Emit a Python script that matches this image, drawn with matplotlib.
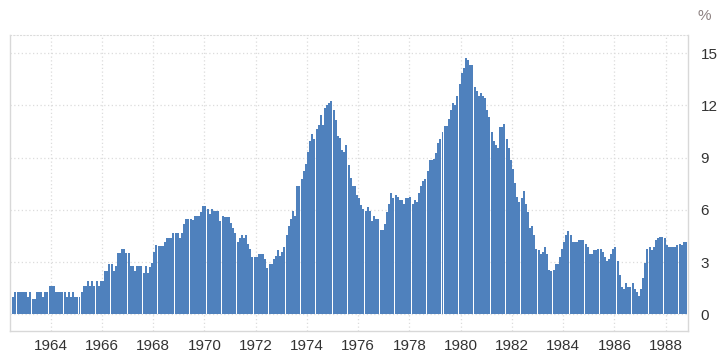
import numpy as np
import pandas as pd
import matplotlib
matplotlib.use("Agg")
import matplotlib.pyplot as plt

# monthly inflation rate (%), Jul 1962 - Oct 1988
start_month = "1962-07"
inflation_rate = [
    1.0, 1.3, 1.3, 1.3, 1.3, 1.3,                                        # 1962 (Jul-Dec)
    1.3, 1.0, 1.3, 0.9, 0.9, 1.3, 1.3, 1.3, 1.0, 1.3, 1.3, 1.6,          # 1963
    1.6, 1.6, 1.3, 1.3, 1.3, 1.3, 1.3, 1.0, 1.3, 1.0, 1.3, 1.0,          # 1964
    1.0, 1.0, 1.3, 1.6, 1.6, 1.9, 1.6, 1.9, 1.6, 1.9, 1.6, 1.9,          # 1965
    1.9, 2.5, 2.5, 2.9, 2.9, 2.5, 2.8, 3.5, 3.5, 3.75, 3.75, 3.5,        # 1966
    3.5, 2.8, 2.8, 2.5, 2.8, 2.8, 2.8, 2.4, 2.8, 2.4, 2.7, 2.95,         # 1967
    3.6, 4.0, 3.9, 3.9, 3.9, 4.15, 4.4, 4.4, 4.4, 4.7, 4.7, 4.7,         # 1968
    4.4, 4.7, 5.2, 5.5, 5.5, 5.5, 5.4, 5.65, 5.65, 5.65, 5.9, 6.2,       # 1969
    6.2, 6.05, 5.75, 6.05, 5.95, 5.95, 5.95, 5.35, 5.65, 5.6, 5.6, 5.6,  # 1970
    5.25, 4.95, 4.65, 4.15, 4.4, 4.55, 4.4, 4.55, 4.05, 3.75, 3.3, 3.3,  # 1971
    3.3, 3.45, 3.45, 3.45, 3.2, 2.65, 2.9, 2.9, 3.2, 3.35, 3.7, 3.35,    # 1972
    3.6, 3.85, 4.55, 5.1, 5.5, 5.95, 5.65, 7.35, 7.35, 7.75, 8.25, 8.65, # 1973
    9.35, 9.95, 10.35, 10.1, 10.65, 10.85, 11.45, 10.85, 11.85, 12.05, 12.15, 12.25,  # 1974
    11.75, 11.15, 10.25, 10.15, 9.45, 9.35, 9.7, 8.6, 7.85, 7.35, 7.35, 6.85,         # 1975
    6.7, 6.3, 6.05, 5.95, 6.15, 5.95, 5.35, 5.65, 5.5, 5.5, 4.85, 4.85,  # 1976
    5.2, 5.9, 6.35, 6.95, 6.7, 6.85, 6.75, 6.55, 6.55, 6.35, 6.7, 6.7,   # 1977
    6.75, 6.35, 6.55, 6.45, 6.95, 7.35, 7.65, 7.75, 8.25, 8.85, 8.85, 8.95,           # 1978
    9.25, 9.85, 10.05, 10.5, 10.8, 10.8, 11.2, 11.75, 12.15, 12.05, 12.55, 13.25,     # 1979
    13.85, 14.15, 14.75, 14.6, 14.35, 14.35, 13.05, 12.85, 12.55, 12.7, 12.55, 12.45, # 1980
    11.75, 11.35, 10.5, 9.95, 9.75, 9.55, 10.75, 10.75, 10.95, 10.05, 9.55, 8.85,     # 1981
    8.35, 7.55, 6.75, 6.45, 6.7, 7.1, 6.35, 5.9, 4.95, 5.05, 4.55, 3.75, # 1982
    3.7, 3.45, 3.6, 3.85, 3.45, 2.55, 2.5, 2.55, 2.9, 2.9, 3.3, 3.75,    # 1983
    4.15, 4.55, 4.8, 4.55, 4.15, 4.15, 4.15, 4.25, 4.25, 4.25, 4.05, 3.85,            # 1984
    3.45, 3.45, 3.7, 3.7, 3.75, 3.75, 3.6, 3.3, 3.05, 3.15, 3.45, 3.75,  # 1985
    3.85, 3.05, 2.25, 1.55, 1.45, 1.8, 1.55, 1.55, 1.8, 1.45, 1.3, 1.05, # 1986
    1.45, 2.1, 2.95, 3.75, 3.85, 3.7, 3.85, 4.25, 4.4, 4.45, 4.45, 4.4,  # 1987
    4.0, 3.85, 3.85, 3.85, 3.85, 4.0, 4.05, 4.0, 4.15, 4.15,             # 1988 (Jan-Oct)
]
tick_years = list(range(1964, 1989, 2))
y_ticks = [0, 3, 6, 9, 12, 15]

dates = pd.date_range(start_month, periods=len(inflation_rate), freq="MS")
x = dates.year + (dates.month - 1) / 12.0

plt.rcParams["font.family"] = ["Liberation Sans", "DejaVu Sans"]

fig = plt.figure(figsize=(7.18, 3.6), dpi=100)
ax = fig.add_axes([10 / 718, 29 / 360, 678 / 718, 296 / 360])

bar_color = "#4F81BD"
ax.bar(x, inflation_rate, width=0.935 / 12, align="edge", color=bar_color,
       linewidth=0, antialiased=False, zorder=2)

ax.set_xlim(1962.41, 1988.87)
ax.set_ylim(-0.96, 16.05)

ax.set_xticks(tick_years)
ax.set_xticklabels([str(y) for y in tick_years])
ax.set_yticks(y_ticks)

ax.yaxis.tick_right()
ax.tick_params(axis="both", length=0, labelsize=11, colors="#333333")
ax.tick_params(axis="y", pad=9)
ax.tick_params(axis="x", pad=6)

ax.grid(True, color="#dcdcdc", linestyle=(0, (1, 2)), linewidth=0.9, zorder=0)

for side in ["left", "right", "bottom"]:
    ax.spines[side].set_color("#d8d8d8")
    ax.spines[side].set_linewidth(1)
ax.spines["top"].set_color("#dcdcdc")
ax.spines["top"].set_linestyle((0, (1, 2)))

fig.text(697 / 718, 1 - 16 / 360, "%", fontsize=11, color="#8c8080",
         ha="left", va="center")

fig.savefig("out.png", dpi=100)
